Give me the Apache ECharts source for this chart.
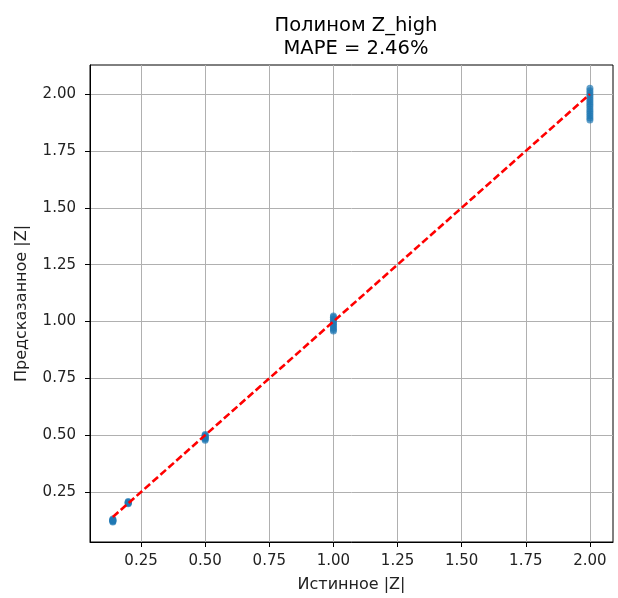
<!DOCTYPE html>
<html>
<head>
<meta charset="utf-8">
<script src="https://cdn.jsdelivr.net/npm/echarts@6/dist/echarts.min.js"></script>
<style>
  html, body { margin: 0; padding: 0; background: #fff; }
  #chart { width: 618px; height: 598px; }
</style>
</head>
<body>
<div id="chart"></div>
<script>
// True |Z| groups and the polynomial model's predictions for each sample
const trueZ014 = 0.14;
const pred014 = [0.118, 0.121, 0.124, 0.126, 0.128, 0.131];
const trueZ020 = 0.20;
const pred020 = [0.198, 0.201, 0.203, 0.205, 0.208];
const trueZ050 = 0.50;
const pred050 = [0.478, 0.483, 0.487, 0.490, 0.494, 0.498, 0.503];
const trueZ100 = 1.00;
const pred100 = [0.958, 0.965, 0.972, 0.980, 0.988, 0.995, 1.002, 1.010, 1.018, 1.024];
const trueZ200 = 2.00;
const pred200 = [1.886, 1.895, 1.905, 1.915, 1.925, 1.935, 1.945, 1.955, 1.965, 1.975, 1.985, 1.995, 2.005, 2.015, 2.026];

// Tick labels on both axes
const xTicks = [0.25, 0.50, 0.75, 1.00, 1.25, 1.50, 1.75, 2.00];
const yTicks = [0.25, 0.50, 0.75, 1.00, 1.25, 1.50, 1.75, 2.00];

const titleText = 'Полином Z_high\nMAPE = 2.46%';
const xName = 'Истинное |Z|';
const yName = 'Предсказанное |Z|';

const groups = [
  [trueZ014, pred014], [trueZ020, pred020], [trueZ050, pred050],
  [trueZ100, pred100], [trueZ200, pred200]
];
const points = [];
groups.forEach(([t, preds]) => preds.forEach(p => points.push([t, p])));

const trueVals = groups.map(g => g[0]);
const lo = Math.min(...trueVals);
const hi = Math.max(...trueVals);

const FONT = 'DejaVu Sans';
const chart = echarts.init(document.getElementById('chart'), null, { renderer: 'canvas' });

const axisCommon = {
  type: 'value',
  axisLine: { show: true, onZero: false, lineStyle: { color: '#000', width: 1 } },
  axisTick: { show: true, inside: false, length: 5, lineStyle: { color: '#000', width: 1 } },
  axisLabel: { color: '#222', fontFamily: FONT, fontSize: 15, formatter: v => v.toFixed(2) },
  splitLine: { show: true, lineStyle: { color: '#b0b0b0', width: 1 } },
  nameLocation: 'middle',
  nameTextStyle: { color: '#222', fontFamily: FONT, fontSize: 16 }
};

chart.setOption({
  animation: false,
  backgroundColor: '#fff',
  title: {
    text: titleText,
    left: 351, top: 9, textAlign: 'center',
    textStyle: { fontFamily: FONT, fontSize: 19.5, fontWeight: 'normal', color: '#000', lineHeight: 23 }
  },
  grid: {
    left: 90, right: 5, top: 65, bottom: 56,
    show: true, borderColor: '#000', borderWidth: 1, backgroundColor: 'transparent'
  },
  xAxis: Object.assign({}, axisCommon, {
    min: 0.051, max: 2.09,
    name: xName, nameGap: 35,
    axisTick: Object.assign({}, axisCommon.axisTick, { customValues: xTicks }),
    axisLabel: Object.assign({}, axisCommon.axisLabel, { customValues: xTicks, margin: 12 })
  }),
  yAxis: Object.assign({}, axisCommon, {
    min: 0.030, max: 2.128,
    name: yName, nameGap: 60,
    axisTick: Object.assign({}, axisCommon.axisTick, { customValues: yTicks }),
    axisLabel: Object.assign({}, axisCommon.axisLabel, { customValues: yTicks, margin: 14 })
  }),
  series: [
    {
      type: 'scatter',
      data: points,
      symbolSize: 7,
      itemStyle: { color: '#1f77b4', opacity: 0.7 },
      z: 2
    },
    {
      type: 'line',
      data: [[lo, lo], [hi, hi]],
      symbol: 'none',
      lineStyle: { color: '#ff0000', width: 2.6, type: [7.4, 3.2] },
      z: 3
    }
  ]
});
</script>
</body>
</html>
